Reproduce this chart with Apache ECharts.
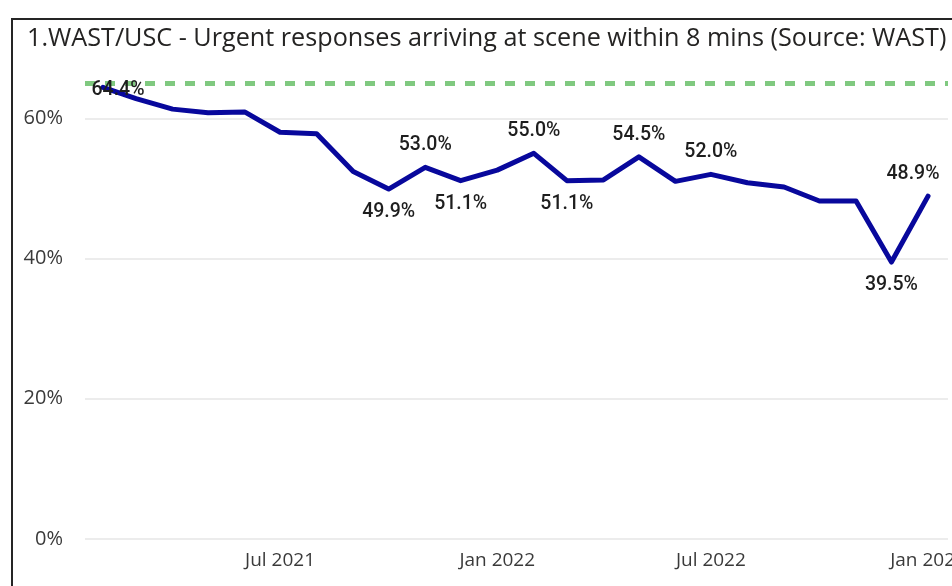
<!DOCTYPE html>
<html>
<head>
<meta charset="utf-8">
<script src="https://cdn.jsdelivr.net/npm/echarts@6/dist/echarts.min.js"></script>
<style>
  html, body { margin: 0; padding: 0; background: #fff; overflow: hidden; width: 952px; height: 586px; }
  #chart { position: absolute; left: 0; top: -30px; width: 952px; height: 616px; }
  #frame { position: absolute; left: 11px; top: 18px; width: 2000px; height: 2000px;
           border-left: 2px solid #252525; border-top: 2px solid #252525; pointer-events: none; }
</style>
</head>
<body>
<div id="chart"></div>
<div id="frame"></div>
<script>
// ---- data ----
const months = ['2021-02','2021-03','2021-04','2021-05','2021-06','2021-07','2021-08','2021-09',
  '2021-10','2021-11','2021-12','2022-01','2022-02','2022-03','2022-04','2022-05','2022-06',
  '2022-07','2022-08','2022-09','2022-10','2022-11','2022-12','2023-01'];
const values = [64.4, 62.8, 61.3, 60.8, 60.9, 58.0, 57.8, 52.4, 49.9, 53.0, 51.1, 52.6,
  55.0, 51.1, 51.2, 54.5, 51.0, 52.0, 50.8, 50.2, 48.2, 48.2, 39.5, 48.9];
const target = 65;
const xTickLabels = ['2021-07','2022-01','2022-07','2023-01'];
const yTicks = [0, 20, 40, 60];
const titleText = '1.WAST/USC - Urgent responses arriving at scene within 8 mins (Source: WAST)';
const labelledAbove = ['2021-11','2022-02','2022-05','2022-07'];
const labelledBelow = ['2021-10','2021-12','2022-03','2022-12'];
const labelledFirst = ['2021-02'];
const labelledLast = ['2023-01'];

const DAY = 86400000;
function toDate(m) { const p = m.split('-'); return Date.UTC(+p[0], +p[1] - 1, 1) / DAY; }
const MON = ['Jan','Feb','Mar','Apr','May','Jun','Jul','Aug','Sep','Oct','Nov','Dec'];

const labelFont = { fontFamily: 'Roboto', fontWeight: 500, fontSize: 19.5, color: '#1e1e1e' };

const lineData = months.map((m, i) => [toDate(m), values[i]]);
const labelData = [];
months.forEach((m, i) => {
  let label = null;
  if (labelledAbove.includes(m)) label = { position: 'top', distance: 12 };
  else if (labelledBelow.includes(m)) label = { position: 'bottom', distance: 13 };
  else if (labelledFirst.includes(m)) label = { position: 'inside', offset: [15, 3] };
  else if (labelledLast.includes(m)) label = { position: 'top', distance: 12, offset: [-15, 0] };
  if (label) labelData.push({ value: [toDate(m), values[i]], label: label });
});

const chart = echarts.init(document.getElementById('chart'), null, { renderer: 'canvas' });
chart.setOption({
  animation: false,
  title: {
    text: titleText, left: 22, top: 51,
    textStyle: { fontFamily: 'Open Sans', fontWeight: 'normal', fontSize: 25.2, color: '#252423' }
  },
  grid: { left: 85, right: 4, top: 8, bottom: 47, containLabel: false, outerBoundsMode: 'none' },
  xAxis: {
    type: 'value',
    min: toDate('2021-01') + 15.75,
    max: toDate('2023-01') + 16.9,
    axisLine: { show: false },
    axisTick: { show: false },
    splitLine: { show: false },
    axisLabel: {
      customValues: xTickLabels.map(toDate),
      margin: 12,
      fontFamily: 'Open Sans', fontSize: 19, color: '#3a3a3a',
      formatter: v => { const d = new Date(Math.round(v) * DAY); return MON[d.getUTCMonth()] + ' ' + d.getUTCFullYear(); }
    }
  },
  yAxis: {
    type: 'value', min: 0, max: 80, interval: 20,
    axisLine: { show: false }, axisTick: { show: false },
    splitLine: { lineStyle: { color: '#e6e6e6', width: 1.5 } },
    axisLabel: {
      margin: 22, fontFamily: 'Open Sans', fontSize: 20, color: '#3a3a3a',
      formatter: v => yTicks.includes(v) ? v + '%' : ''
    }
  },
  series: [{
    type: 'line',
    data: lineData,
    symbol: 'none',
    lineStyle: { color: '#08089c', width: 5, cap: 'round', join: 'round' },
    markLine: {
      silent: true, symbol: 'none', label: { show: false },
      lineStyle: { color: '#80c980', width: 5, type: [10, 10], cap: 'butt' },
      data: [{ yAxis: target }]
    },
    z: 2
  }, {
    type: 'scatter',
    data: labelData,
    symbolSize: 0,
    silent: true,
    itemStyle: { opacity: 1, color: '#1e1e1e' },
    label: Object.assign({ show: true, opacity: 1, formatter: p => p.value[1].toFixed(1) + '%' }, labelFont),
    z: 5
  }]
});
</script>
</body>
</html>
